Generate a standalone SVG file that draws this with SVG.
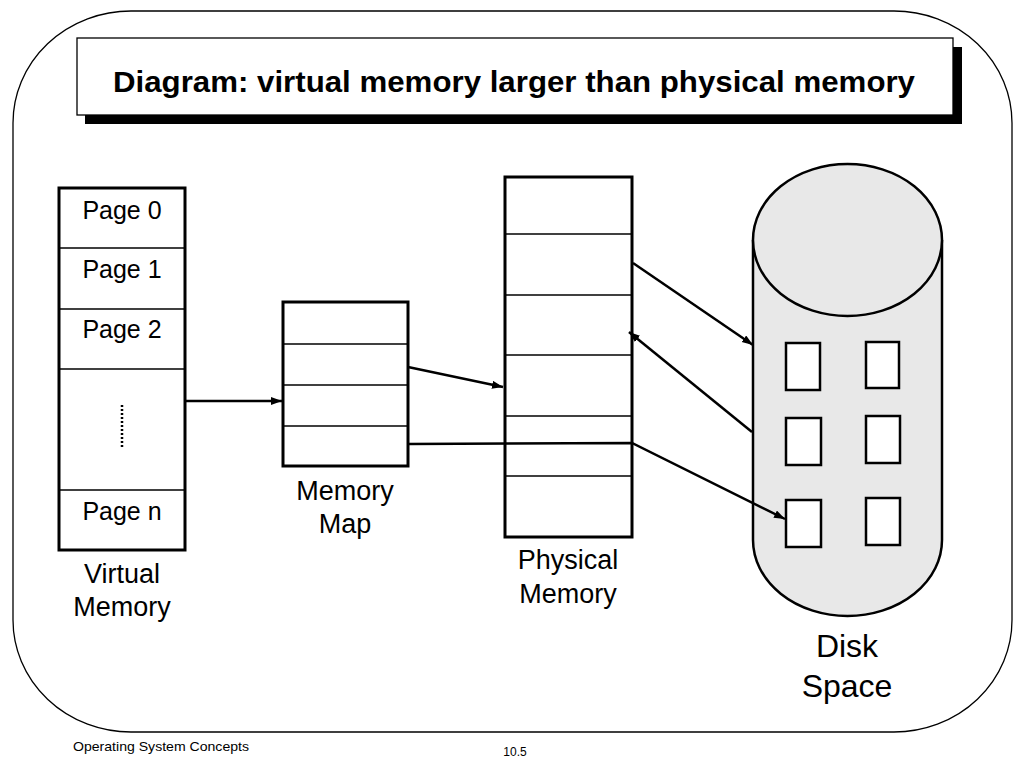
<svg xmlns="http://www.w3.org/2000/svg" width="1024" height="768" viewBox="0 0 1024 768">
<style>
text{font-family:"Liberation Sans",Arial,sans-serif;fill:#000}
.box{fill:#fff;stroke:#000;stroke-width:3}
.div{stroke:#000;stroke-width:1.5}
.lbl{font-size:27px;text-anchor:middle}
.pg{font-size:25px;text-anchor:middle}
.con{fill:none;stroke:#000;stroke-width:2.5}
.blk{fill:#fff;stroke:#000;stroke-width:2.5}
</style>
<defs>
<marker id="ah" markerUnits="userSpaceOnUse" markerWidth="12" markerHeight="10" refX="11" refY="4" orient="auto">
<path d="M0,0 L11,4 L0,8 Z" fill="#000"/>
</marker>
</defs>
<rect width="1024" height="768" fill="#fff"/>
<g id="frame">
<rect x="13" y="11" width="999" height="721" rx="118" ry="112" fill="none" stroke="#000" stroke-width="1.3"/>
</g>
<g id="title">
<rect x="85" y="47" width="877" height="77" fill="#000"/>
<rect x="77" y="38" width="876" height="77" fill="#fff" stroke="#000" stroke-width="1.3"/>
<text x="113" y="92" font-size="29" font-weight="bold" textLength="802" lengthAdjust="spacingAndGlyphs">Diagram: virtual memory larger than physical memory</text>
</g>
<g id="virtual-memory">
<rect class="box" x="59" y="188" width="126" height="362"/>
<line class="div" x1="59" y1="248" x2="185" y2="248"/>
<line class="div" x1="59" y1="309" x2="185" y2="309"/>
<line class="div" x1="59" y1="369" x2="185" y2="369"/>
<line class="div" x1="59" y1="490" x2="185" y2="490"/>
<text class="pg" x="122" y="219">Page 0</text>
<text class="pg" x="122" y="278">Page 1</text>
<text class="pg" x="122" y="338">Page 2</text>
<line x1="122" y1="405" x2="122" y2="447" stroke="#000" stroke-width="2.5" stroke-dasharray="2,2"/>
<text class="pg" x="122" y="520">Page n</text>
<text class="lbl" x="122" y="583">Virtual</text>
<text class="lbl" x="122" y="616">Memory</text>
</g>
<g id="memory-map">
<rect class="box" x="283" y="302" width="125" height="164"/>
<line class="div" x1="283" y1="344" x2="408" y2="344"/>
<line class="div" x1="283" y1="385" x2="408" y2="385"/>
<line class="div" x1="283" y1="426" x2="408" y2="426"/>
<text class="lbl" x="345" y="500">Memory</text>
<text class="lbl" x="345" y="533">Map</text>
</g>
<g id="physical-memory">
<rect class="box" x="505" y="177" width="127" height="360"/>
<line class="div" x1="505" y1="234" x2="632" y2="234"/>
<line class="div" x1="505" y1="295" x2="632" y2="295"/>
<line class="div" x1="505" y1="355" x2="632" y2="355"/>
<line class="div" x1="505" y1="416" x2="632" y2="416"/>
<line class="div" x1="505" y1="476" x2="632" y2="476"/>
<text class="lbl" x="568" y="569">Physical</text>
<text class="lbl" x="568" y="603">Memory</text>
</g>
<g id="disk-space">
<path d="M753,240 L753,540 A94.5,76 0 0 0 942,540 L942,240" fill="#e8e8e8" stroke="#000" stroke-width="2.5"/>
<ellipse cx="847.5" cy="240" rx="94.5" ry="76" fill="#e8e8e8" stroke="#000" stroke-width="2.5"/>
<rect class="blk" x="786" y="343" width="34" height="47"/>
<rect class="blk" x="866" y="342" width="33" height="46"/>
<rect class="blk" x="786" y="418" width="35" height="47"/>
<rect class="blk" x="866" y="416" width="34" height="47"/>
<rect class="blk" x="786" y="500" width="35" height="47"/>
<rect class="blk" x="866" y="498" width="34" height="47"/>
<text x="847" y="657" font-size="32" text-anchor="middle">Disk</text>
<text x="847" y="697" font-size="32" text-anchor="middle">Space</text>
</g>
<g id="connectors">
<line class="con" x1="186" y1="401" x2="282" y2="401" marker-end="url(#ah)"/>
<line class="con" x1="408" y1="367" x2="503" y2="387" marker-end="url(#ah)"/>
<polyline class="con" points="408,444 632,443 785,519" marker-end="url(#ah)"/>
<line class="con" x1="633" y1="263" x2="753" y2="345" marker-end="url(#ah)"/>
<line class="con" x1="752" y1="432" x2="629" y2="332" marker-end="url(#ah)"/>
</g>
<g id="footer">
<text x="73" y="751" font-size="13" textLength="176" lengthAdjust="spacingAndGlyphs">Operating System Concepts</text>
<text x="515" y="756" font-size="12" text-anchor="middle">10.5</text>
</g>
</svg>
